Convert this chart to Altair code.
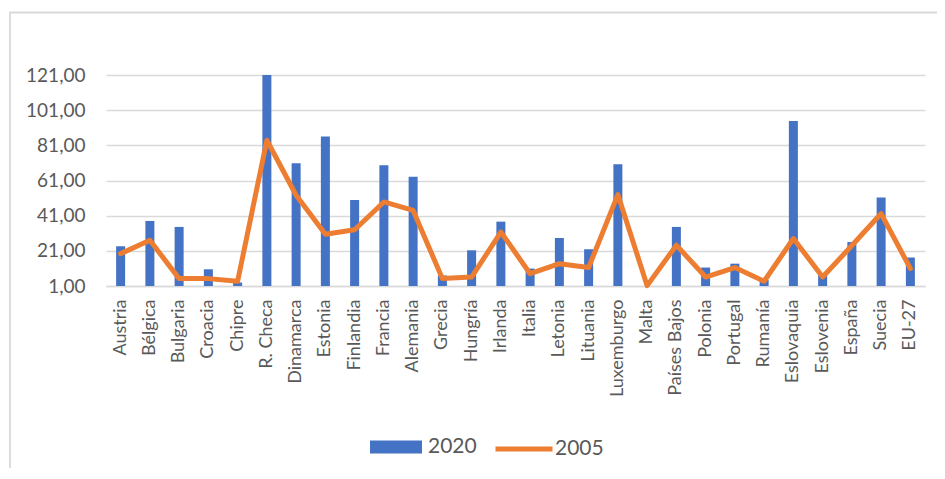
import altair as alt
import pandas as pd

paises = ["Austria", "Bélgica", "Bulgaria", "Croacia", "Chipre", "R. Checa", "Dinamarca",
          "Estonia", "Finlandia", "Francia", "Alemania", "Grecia", "Hungría", "Irlanda",
          "Italia", "Letonia", "Lituania", "Luxemburgo", "Malta", "Países Bajos", "Polonia",
          "Portugal", "Rumanía", "Eslovaquia", "Eslovenia", "España", "Suecia", "EU-27"]
v2020 = [23.6, 38.0, 34.6, 10.5, 3.0, 121.0, 70.8, 86.0, 49.9, 69.7, 63.2, 7.0, 21.3, 37.6,
         10.9, 28.3, 21.9, 70.2, 1.0, 34.6, 11.5, 13.7, 4.5, 94.9, 8.2, 26.0, 51.3, 17.2]
v2005 = [19.4, 27.0, 5.2, 5.2, 3.7, 83.9, 52.6, 30.4, 33.0, 48.8, 44.0, 5.2, 6.1, 31.7,
         8.0, 13.7, 11.5, 53.0, 1.2, 24.2, 6.1, 11.5, 3.7, 28.0, 6.1, 24.0, 42.2, 10.9]
y_ticks = [1, 21, 41, 61, 81, 101, 121]

df = pd.DataFrame({"pais": paises, "v2020": v2020, "v2005": v2005})

W, H = 819, 211
GRAY = "#595959"
FONT = "Lato"

x_enc = alt.X("pais:N", sort=paises,
              scale=alt.Scale(paddingInner=0, paddingOuter=0),
              axis=alt.Axis(title=None, labelAngle=270, ticks=False, labelPadding=13,
                            labelFont=FONT, labelFontSize=18, labelColor=GRAY,
                            domainColor="#d9d9d9", domainWidth=1.5, grid=False,
                            labelLimit=300))
yscale = alt.Scale(domain=[1, 121], nice=False, zero=False)
yaxis = alt.Axis(title=None, values=y_ticks, labelOverlap=False, labelAlign="right",
                 labelExpr="replace(format(datum.value, '.2f'), '.', ',')",
                 domain=False, ticks=False, labelPadding=21, labelFont=FONT,
                 labelFontSize=19, labelColor=GRAY, gridColor="#d9d9d9", gridWidth=1.5)

frame = alt.Chart(pd.DataFrame({"f": [0]})).mark_rect(
    fillOpacity=0, stroke="#d9d9d9", strokeWidth=1.8
).encode(x=alt.value(-96), x2=alt.value(1500), y=alt.value(-62.5), y2=alt.value(1000))

bars = alt.Chart(df).transform_calculate(serie="'2020'").mark_bar(size=9).encode(
    x=x_enc,
    y=alt.Y("v2020:Q", scale=yscale, axis=yaxis),
    y2=alt.datum(1),
    fill=alt.Fill("serie:N", scale=alt.Scale(domain=["2020"], range=["#4472C4"]),
                  legend=alt.Legend(title=None, orient="none", legendX=264, legendY=346,
                                    symbolType="M-1,-0.25H1V0.25H-1Z", symbolSize=2704,
                                    symbolStrokeWidth=0, labelFont=FONT, labelFontSize=21,
                                    labelColor=GRAY, labelOffset=6)),
)

line = alt.Chart(df).transform_calculate(serie="'2005'").mark_line(
    strokeWidth=5, strokeJoin="round", strokeCap="round"
).encode(
    x=x_enc,
    y=alt.Y("v2005:Q", scale=yscale, axis=yaxis),
    stroke=alt.Stroke("serie:N", scale=alt.Scale(domain=["2005"], range=["#ED7D31"]),
                      legend=alt.Legend(title=None, orient="none", legendX=387, legendY=343,
                                        symbolType="stroke", symbolSize=3249,
                                        symbolStrokeWidth=5, labelFont=FONT,
                                        labelFontSize=21, labelColor=GRAY, labelOffset=0)),
)

chart = alt.layer(frame, bars, line).properties(
    width=W, height=H,
    title=alt.Title("Tamaño medio de las explotaciones agrarias 2005-2020 (hectáreas)",
                    font="Liberation Serif", fontSize=29, fontWeight="bold", color="black",
                    frame="group", offset=64, dx=-36),
    autosize=alt.AutoSizeParams(type="none"),
    padding={"left": 98, "top": 67, "right": 12, "bottom": 182},
).configure_view(stroke=None)

chart.save("out.html", embed_options={"renderer": "svg", "actions": False})
